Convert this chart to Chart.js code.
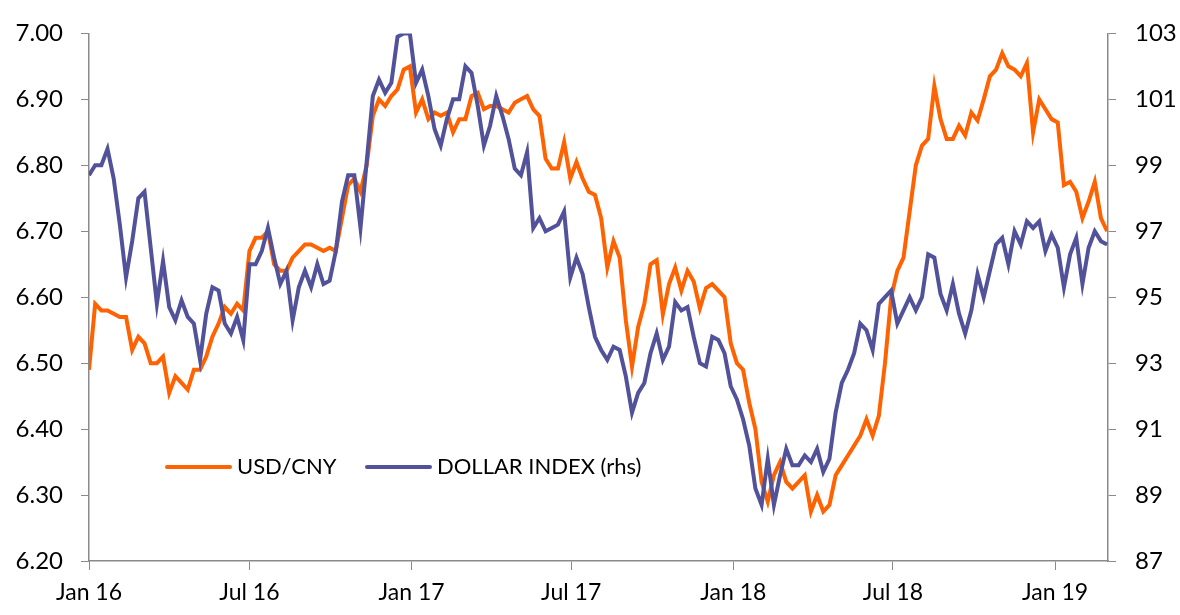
<!DOCTYPE html>
<html>
<head>
<meta charset="utf-8">
<script src="https://cdn.jsdelivr.net/npm/chart.js@4"></script>
<style>
  html, body { margin: 0; padding: 0; background: #fff; }
  #wrap { width: 1180px; height: 615px; }
</style>
</head>
<body>
<div id="wrap"><canvas id="chart" width="1180" height="615"></canvas></div>
<script>
// weekly readings, first one on 1 Jan 2016
const stepDays = 7;

const usdCny = [
  6.49, 6.59, 6.58, 6.58, 6.575, 6.57, 6.57, 6.52, 6.54, 6.53,
  6.50, 6.50, 6.51, 6.455, 6.48, 6.47, 6.46, 6.49, 6.49, 6.51,
  6.54, 6.56, 6.585, 6.575, 6.59, 6.58, 6.67, 6.69, 6.69, 6.70,
  6.65, 6.64, 6.64, 6.66, 6.67, 6.68, 6.68, 6.675, 6.67, 6.675,
  6.67, 6.72, 6.77, 6.78, 6.76, 6.80, 6.875, 6.90, 6.89, 6.905,
  6.915, 6.945, 6.95, 6.88, 6.90, 6.87, 6.88, 6.875, 6.88, 6.85,
  6.87, 6.87, 6.905, 6.91, 6.885, 6.89, 6.89, 6.885, 6.88, 6.895,
  6.90, 6.905, 6.885, 6.875, 6.81, 6.795, 6.795, 6.835, 6.78, 6.805,
  6.78, 6.76, 6.755, 6.72, 6.645, 6.685, 6.66, 6.565, 6.495, 6.555,
  6.59, 6.65, 6.656, 6.574, 6.62, 6.645, 6.61, 6.64, 6.624, 6.583,
  6.614, 6.62, 6.61, 6.60, 6.53, 6.50, 6.49, 6.44, 6.40, 6.32,
  6.29, 6.33, 6.35, 6.32, 6.31, 6.32, 6.33, 6.275, 6.30, 6.275,
  6.285, 6.33, 6.345, 6.36, 6.375, 6.39, 6.415, 6.39, 6.42, 6.50,
  6.60, 6.64, 6.66, 6.73, 6.80, 6.83, 6.84, 6.92, 6.87, 6.84,
  6.84, 6.86, 6.845, 6.88, 6.868, 6.90, 6.935, 6.945, 6.97, 6.95,
  6.945, 6.935, 6.955, 6.85, 6.90, 6.885, 6.87, 6.865, 6.77, 6.775,
  6.76, 6.72, 6.745, 6.775, 6.72, 6.70
];

const dollarIndex = [
  98.7, 99.0, 99.0, 99.5, 98.6, 97.2, 95.6, 96.7, 98.0, 98.2,
  96.5, 94.8, 96.1, 94.7, 94.3, 94.9, 94.4, 94.2, 93.1, 94.5,
  95.3, 95.2, 94.2, 93.9, 94.4, 93.7, 96.0, 96.0, 96.4, 97.1,
  96.2, 95.4, 95.8, 94.3, 95.3, 95.8, 95.3, 96.0, 95.4, 95.5,
  96.4, 97.9, 98.7, 98.7, 97.1, 99.1, 101.1, 101.6, 101.2, 101.5,
  102.9, 103.0, 103.0, 101.5, 101.9, 101.1, 100.1, 99.6, 100.4, 101.0,
  101.0, 102.0, 101.8, 100.8, 99.6, 100.2, 101.1, 100.5, 99.8, 98.9,
  98.7, 99.4, 97.1, 97.4, 97.0, 97.1, 97.2, 97.6, 95.6, 96.2,
  95.7, 94.7, 93.8, 93.4, 93.1, 93.5, 93.4, 92.6, 91.5, 92.1,
  92.4, 93.3, 93.9, 93.1, 93.5, 94.85, 94.6, 94.7, 93.8, 93.0,
  92.9, 93.8, 93.7, 93.3, 92.3, 91.9, 91.3, 90.5, 89.2, 88.7,
  90.1, 88.7, 89.6, 90.4, 89.9, 89.9, 90.2, 90.0, 90.4, 89.7,
  90.1, 91.5, 92.4, 92.8, 93.3, 94.2, 94.0, 93.4, 94.8, 95.0,
  95.2, 94.2, 94.6, 95.0, 94.6, 95.0, 96.3, 96.2, 95.1, 94.6,
  95.4, 94.5, 93.9, 94.6, 95.7, 95.0, 95.8, 96.6, 96.8, 96.0,
  97.0, 96.6, 97.3, 97.1, 97.3, 96.4, 96.9, 96.5, 95.3, 96.3,
  96.8, 95.4, 96.5, 97.0, 96.7, 96.6
];

// x axis: days since 1 Jan 2016
const tickDays = [0, 182, 366, 547, 731, 912, 1096];
const tickLabels = ['Jan 16', 'Jul 16', 'Jan 17', 'Jul 17', 'Jan 18', 'Jul 18', 'Jan 19'];
const xMax = 1156;

const orange = '#ff6200';
const purple = '#52529a';
const axisGrey = '#8a8a8a';
const fontFamily = 'Lato, "Noto Sans", sans-serif';

const toPoints = (arr) => arr.map((v, i) => ({ x: i * stepDays, y: v }));

// legend drawn inside the plot, like the original
const insideLegend = {
  id: 'insideLegend',
  afterDraw(chart) {
    const ctx = chart.ctx;
    const items = [
      { ds: 0, x: 167 },
      { ds: 1, x: 367 },
    ];
    ctx.save();
    ctx.font = '22px ' + fontFamily;
    ctx.textBaseline = 'middle';
    ctx.fillStyle = '#000';
    items.forEach((it) => {
      const ds = chart.data.datasets[it.ds];
      ctx.strokeStyle = ds.borderColor;
      ctx.lineWidth = 4;
      ctx.lineCap = 'round';
      ctx.beginPath();
      ctx.moveTo(it.x, 467);
      ctx.lineTo(it.x + 63, 467);
      ctx.stroke();
      ctx.fillText(ds.label, it.x + 70, 467);
    });
    ctx.restore();
  },
};

new Chart(document.getElementById('chart'), {
  type: 'line',
  data: {
    datasets: [
      {
        label: 'USD/CNY',
        data: toPoints(usdCny),
        borderColor: orange,
        borderWidth: 4,
        pointRadius: 0,
        tension: 0,
        yAxisID: 'y',
        order: 1,
      },
      {
        label: 'DOLLAR INDEX (rhs)',
        data: toPoints(dollarIndex),
        borderColor: purple,
        borderWidth: 4,
        pointRadius: 0,
        tension: 0,
        yAxisID: 'y2',
        order: 0,
      },
    ],
  },
  options: {
    responsive: false,
    animation: false,
    layout: { padding: { top: 31, right: 0, bottom: 0, left: 0 } },
    plugins: {
      legend: { display: false },
      tooltip: { enabled: false },
    },
    scales: {
      x: {
        type: 'linear',
        min: 0,
        max: xMax,
        afterBuildTicks: (scale) => {
          scale.ticks = tickDays.map((d) => ({ value: d }));
        },
        afterFit: (scale) => { scale.height = 54; },
        ticks: {
          autoSkip: false,
          maxRotation: 0,
          padding: 9,
          color: '#000',
          font: { family: fontFamily, size: 23 },
          callback: (value) => tickLabels[tickDays.indexOf(value)],
        },
        grid: { drawOnChartArea: false, drawTicks: true, tickLength: 9, color: axisGrey },
        border: { display: true, color: axisGrey, width: 1.5 },
      },
      y: {
        position: 'left',
        min: 6.2,
        max: 7.0,
        afterFit: (scale) => { scale.width = 89; },
        ticks: {
          stepSize: 0.1,
          padding: 18,
          color: '#000',
          font: { family: fontFamily, size: 24 },
          callback: (v) => v.toFixed(2),
        },
        grid: { drawOnChartArea: false, drawTicks: true, tickLength: 8, color: axisGrey },
        border: { display: true, color: axisGrey, width: 1.5 },
      },
      y2: {
        position: 'right',
        min: 87,
        max: 103,
        afterFit: (scale) => { scale.width = 72; },
        ticks: {
          stepSize: 2,
          padding: 19,
          color: '#000',
          font: { family: fontFamily, size: 24 },
        },
        grid: { drawOnChartArea: false, drawTicks: true, tickLength: 8, color: axisGrey },
        border: { display: true, color: axisGrey, width: 1.5 },
      },
    },
  },
  plugins: [insideLegend],
});
</script>
</body>
</html>
